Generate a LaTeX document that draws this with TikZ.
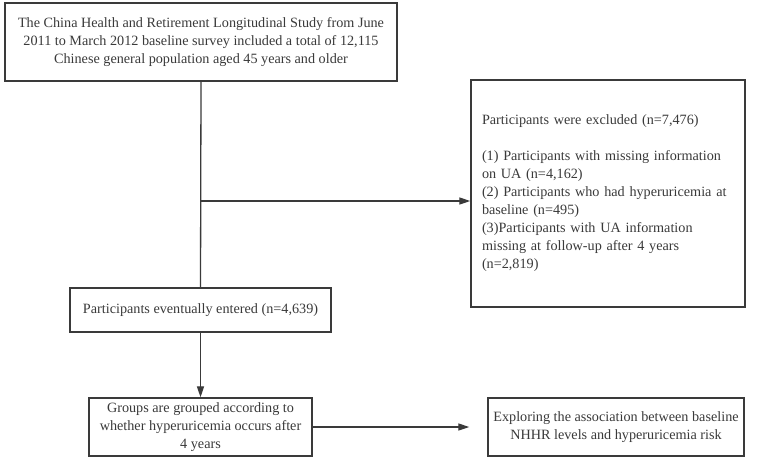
\documentclass[tikz,border=0pt]{standalone}
\usepackage{fontspec}
\setmainfont{Liberation Serif}
\usetikzlibrary{arrows.meta}
\definecolor{ink}{HTML}{3A3A3A}
\begin{document}
\begin{tikzpicture}[x=1pt,y=-1pt,
  box/.style={draw=ink, line width=1.4pt, text=ink, inner sep=0pt, font=\fontsize{14.2}{18}\selectfont, align=center},
  conn/.style={draw=ink, line width=1.3pt},
  arr/.style={conn, -{Triangle[length=11pt,width=7pt]}}]
\fill[white] (0,0) rectangle (767,461);
\useasboundingbox (0,0) rectangle (767,461);
\node[box, minimum width=392pt, minimum height=78pt] (b1) at (201,42)
  {The China Health and Retirement Longitudinal Study from June\\2011 to March 2012 baseline survey included a total of 12,115\\Chinese general population aged 45 years and older};
\node[box, minimum width=274pt, minimum height=227pt, text width=252pt, align=left] (b2) at (608,193.5)
  {Participants were excluded (n=7,476)\\[18pt]
  (1) Participants with missing information\\on UA (n=4,162)\\
  (2) Participants who had hyperuricemia at\\baseline (n=495)\\
  (3)Participants with UA information\\missing at follow-up after 4 years\\(n=2,819)};
\node[box, minimum width=261pt, minimum height=44pt] (b3) at (200.5,310)
  {Participants eventually entered (n=4,639)};
\node[box, minimum width=223pt, minimum height=58pt] (b4) at (200.5,427)
  {Groups are grouped according to\\whether hyperuricemia occurs after\\4 years};
\node[box, minimum width=256pt, minimum height=58pt] (b5) at (616,427)
  {Exploring the association between baseline\\NHHR levels and hyperuricemia risk};
\coordinate (j) at (201,201);
\draw[conn] (b1.south) -- (b3.north);
\draw[arr] (j) -- (j -| b2.west);
\draw[arr] (b3.south) -- (b4.north);
\draw[arr, shorten >=18pt] (b4.east) -- (b5.west);
\end{tikzpicture}
\end{document}
